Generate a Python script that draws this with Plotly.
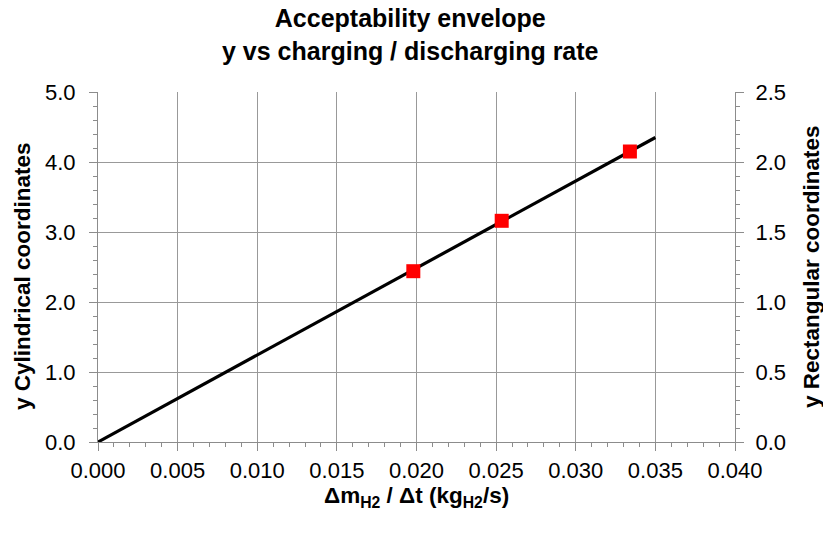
import plotly.graph_objects as go

# Data
line_x = [0.0, 0.035]
line_y = [0.0, 4.35]
point_x = [0.0198, 0.02535, 0.0334]
point_y = [2.44, 3.16, 4.15]

title_text = "<b>Acceptability envelope<br>y vs charging / discharging rate</b>"
x_title = "<b>Δm<sub>H2</sub> / Δt (kg<sub>H2</sub>/s)</b>"
y_title = "<b>y Cylindrical coordinates</b>"
y2_title = "<b>y Rectangular coordinates</b>"

FONT = "Liberation Sans, Arial, sans-serif"
GRID = "#999999"
AXIS = "#8c8c8c"

fig = go.Figure()
fig.add_trace(go.Scatter(x=line_x, y=line_y, mode="lines",
                         line=dict(color="black", width=3.2), showlegend=False,
                         hoverinfo="skip"))
fig.add_trace(go.Scatter(x=point_x, y=point_y, mode="markers",
                         marker=dict(symbol="square", color="#ff0000", size=14),
                         showlegend=False))
# invisible trace to activate the secondary axis
fig.add_trace(go.Scatter(x=[0], y=[0], yaxis="y2", mode="markers",
                         marker=dict(opacity=0), showlegend=False, hoverinfo="skip"))

fig.update_layout(
    width=823, height=535,
    margin=dict(l=98, r=88, t=92, b=93),
    paper_bgcolor="white", plot_bgcolor="white",
    font=dict(family=FONT, color="black", size=22),
    xaxis=dict(range=[0, 0.04], dtick=0.005, tick0=0, tickformat=".3f",
               showgrid=True, gridcolor=GRID, gridwidth=1,
               showline=True, linecolor=AXIS, linewidth=1, zeroline=False,
               ticks="outside", ticklen=8, tickcolor=AXIS, ticklabelstandoff=1,
               minor=dict(dtick=0.001, ticks="outside", ticklen=4, tickcolor=AXIS, showgrid=False)),
    yaxis=dict(range=[0, 5], dtick=1, tick0=0, tickformat=".1f",
               showgrid=True, gridcolor=GRID, gridwidth=1,
               showline=True, linecolor=AXIS, linewidth=1, zeroline=False,
               ticks="outside", ticklen=8, tickcolor=AXIS, ticklabelstandoff=9,
               minor=dict(dtick=0.2, ticks="outside", ticklen=4, tickcolor=AXIS, showgrid=False)),
    yaxis2=dict(range=[0, 2.5], dtick=0.5, tick0=0, tickformat=".1f",
                overlaying="y", side="right", showgrid=False,
                showline=True, linecolor=AXIS, linewidth=1, zeroline=False,
                ticks="outside", ticklen=8, tickcolor=AXIS, ticklabelstandoff=7,
                minor=dict(dtick=0.1, ticks="outside", ticklen=4, tickcolor=AXIS, showgrid=False)),
    annotations=[
        dict(text=title_text, xref="paper", yref="paper", x=0.49, y=1,
             xanchor="center", yanchor="bottom", yshift=25, showarrow=False,
             font=dict(size=25)),
        dict(text=x_title, xref="paper", yref="paper", x=0.5, y=0,
             xanchor="center", yanchor="middle", yshift=-55, showarrow=False,
             font=dict(size=22.5)),
        dict(text=y_title, xref="paper", yref="paper", x=0, y=0.5,
             xanchor="center", yanchor="middle", xshift=-76, yshift=-9, textangle=-90,
             showarrow=False, font=dict(size=22.5)),
        dict(text=y2_title, xref="paper", yref="paper", x=1, y=0.5,
             xanchor="center", yanchor="middle", xshift=76, textangle=-90,
             showarrow=False, font=dict(size=22.5)),
    ],
)

fig.write_html("out.html")
